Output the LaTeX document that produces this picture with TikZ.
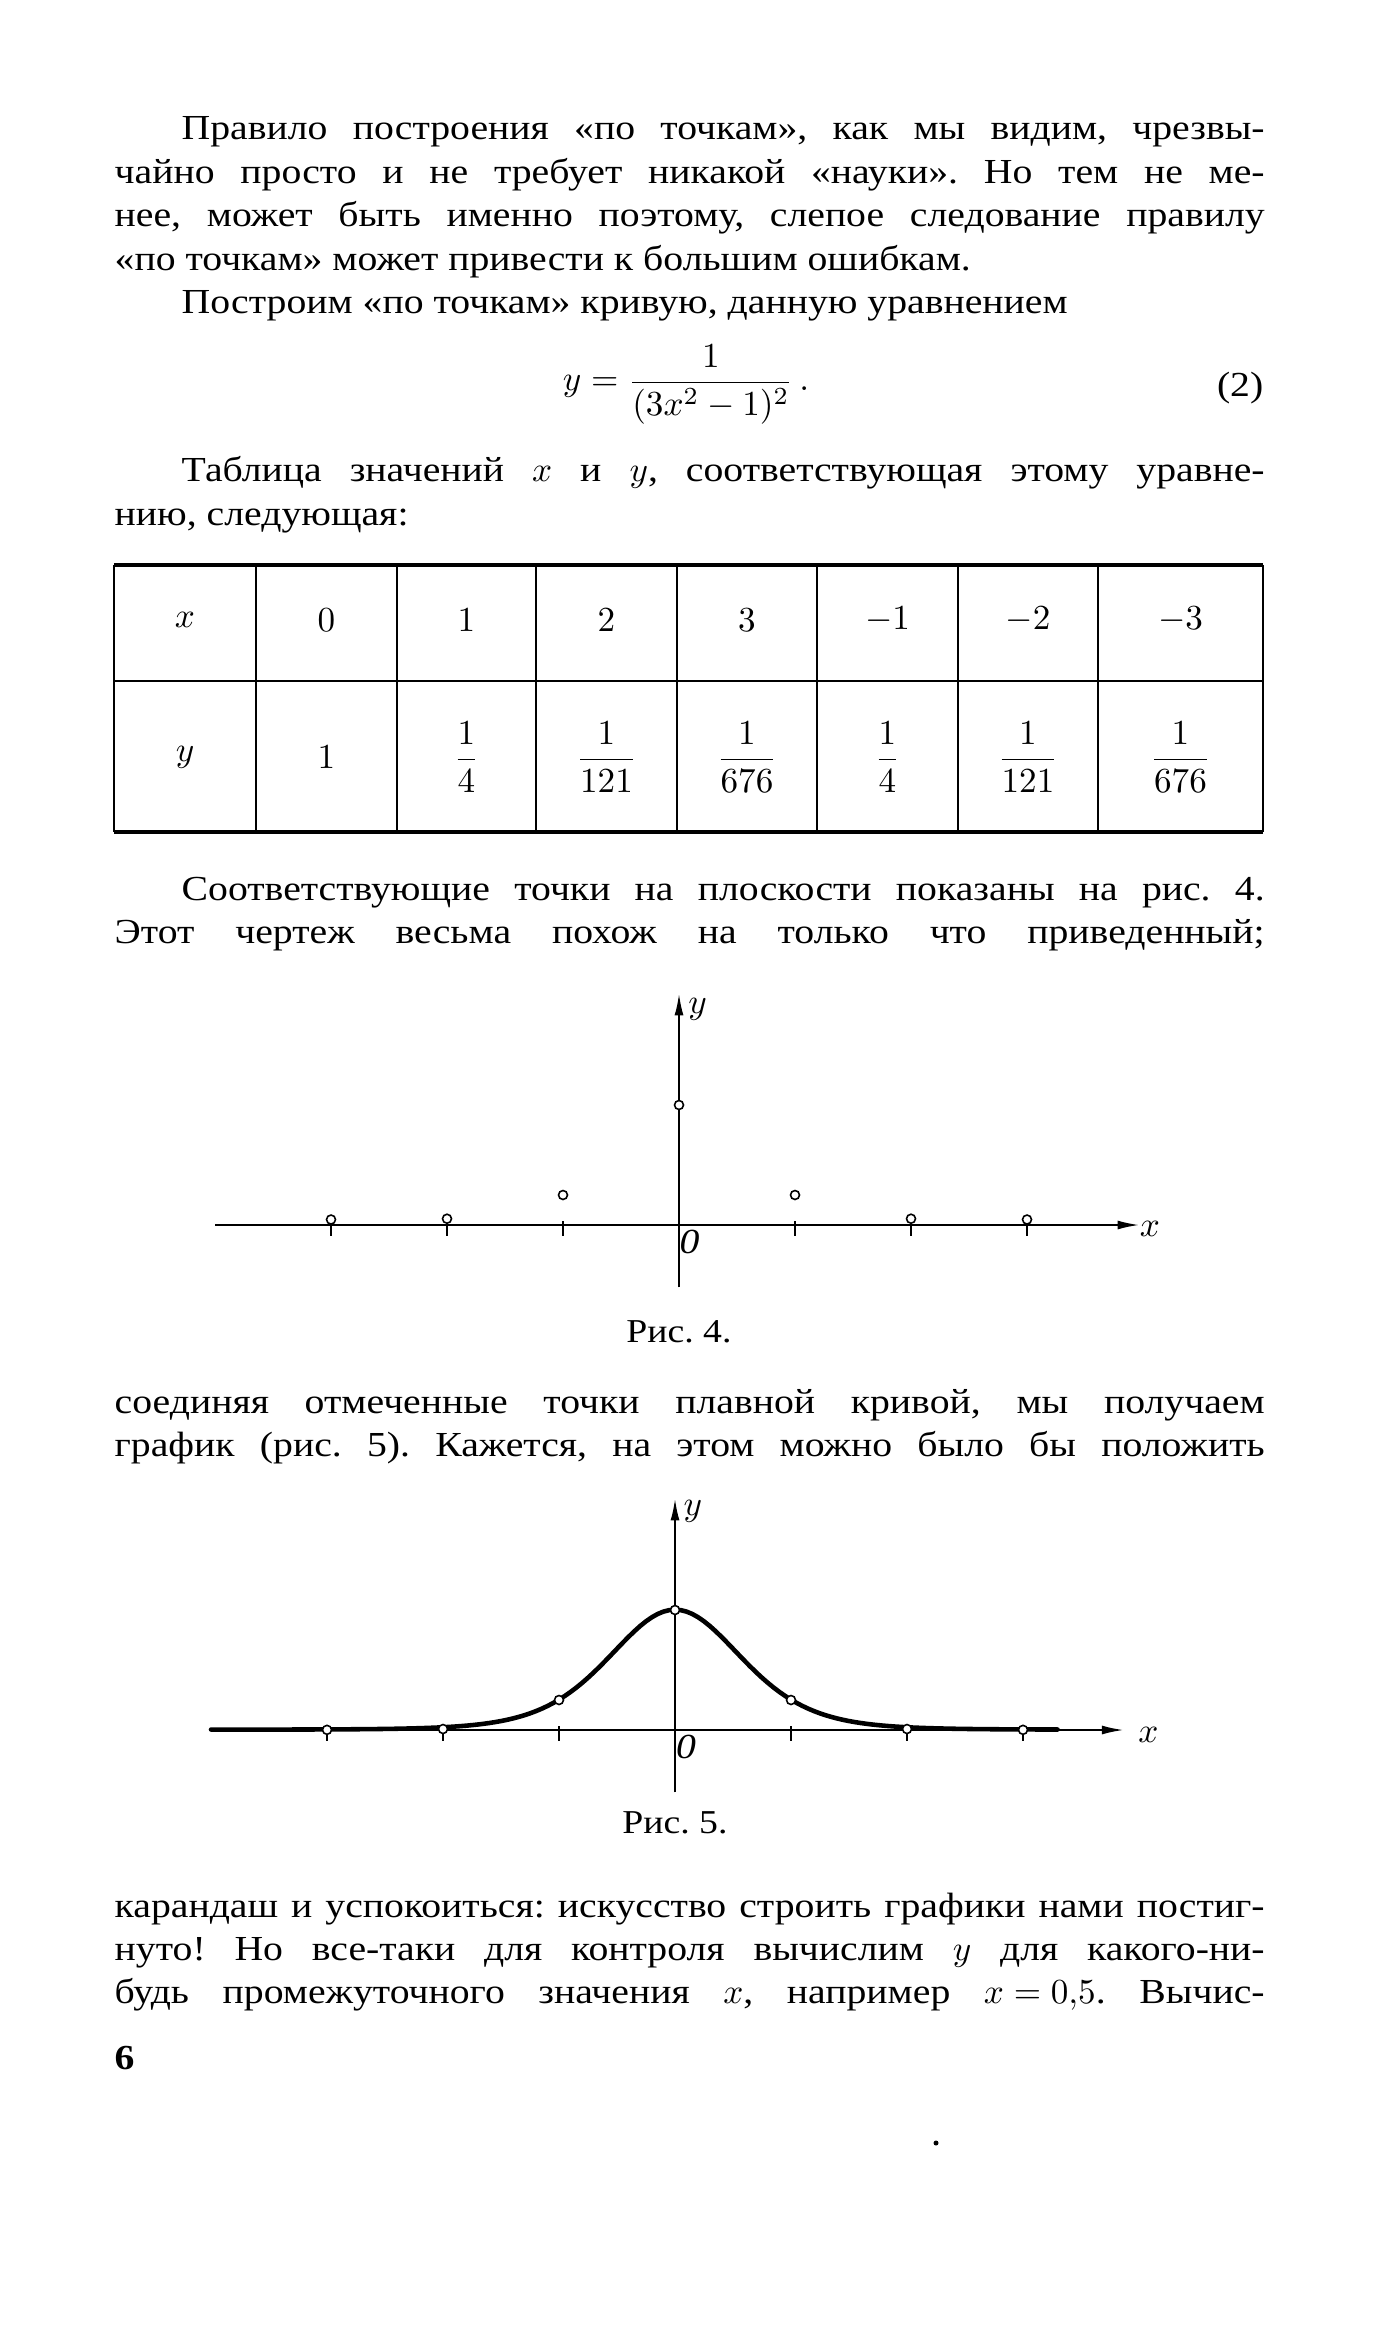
\documentclass[tikz,border=0pt]{standalone}
\usepackage{fontspec}
\setmainfont[FakeStretch=1.13]{Liberation Serif}
\usepackage{amsmath}
\usetikzlibrary{arrows.meta}

\newlength\parind
\setlength\parind{6.7mm}
\newcommand\bodyfont{\fontsize{10}{12.37}\selectfont\frenchspacing\hyphenpenalty=10000\exhyphenpenalty=10000}
\newcommand\capfont{\fontsize{9.5}{11}\selectfont\frenchspacing}

\begin{document}
\begin{tikzpicture}[x=0.1mm,y=-0.1mm]
  \tikzstyle{textpar}=[anchor=base west,inner sep=0pt,text width=115mm,align=justify,font=\bodyfont]
  \tikzstyle{cellnode}=[inner sep=0pt,font=\bodyfont]
  \tikzstyle{axisline}=[line width=0.6pt,-{Latex[length=2.2mm,width=0.9mm]}]
  \tikzstyle{tickline}=[line width=0.45pt]
  \tikzstyle{pointmark}=[circle,draw,fill=white,line width=0.45pt,inner sep=0pt,minimum size=0.9mm]
  \tikzstyle{curveline}=[line width=1.3pt,line cap=round,line join=round]
  \tikzstyle{figlabel}=[inner sep=0pt,font=\bodyfont]
  \tikzstyle{figcaption}=[anchor=base,inner sep=0pt,font=\capfont]

  \fill[white] (0,0) rectangle (1380,2340);

  % text before the table
  \node[textpar] (P1) at (114,140) {\hspace*{\parind}Правило построения «по точкам», как мы видим, чрезвы-\linebreak
    чайно просто и не требует никакой «науки». Но тем не ме-\linebreak
    нее, может быть именно поэтому, слепое следование правилу\linebreak
    «по точкам» может привести к большим ошибкам.\par
    \hspace*{\parind}Построим «по точкам» кривую, данную уравнением};
  \node[anchor=base,inner sep=0pt,font=\bodyfont] (EQ) at (686,391) {$y=\dfrac{1}{(3x^2-1)^2}\,.$};
  \node[anchor=base east,inner sep=0pt,font=\bodyfont] (EQN) at (1264,397) {(2)};
  \node[textpar] (P2) at (114,482) {\hspace*{\parind}Таблица значений $x$ и $y$, соответствующая этому уравне-\linebreak
    нию, следующая:};

  % table of values
  \draw[line width=0.9pt] (114,565) -- (1263,565);
  \draw[line width=0.6pt] (114,681) -- (1263,681);
  \draw[line width=0.9pt] (114,832) -- (1263,832);
  \foreach \cx in {114,256,397,536,677,817,958,1098,1263}
    \draw[line width=0.45pt] (\cx,565) -- (\cx,832);
  \foreach \cx/\vx/\vy [count=\i] in {185/x/y, 326.5/0/1, 466.5/1/\dfrac{1}{4}, 606.5/2/\dfrac{1}{121},
      747/3/\dfrac{1}{676}, 887.5/-1/\dfrac{1}{4}, 1028/-2/\dfrac{1}{121}, 1180.5/-3/\dfrac{1}{676}} {
    \node[cellnode] (X\i) at (\cx,620) {$\vx$};
    \node[cellnode] (Y\i) at (\cx,757) {$\vy$};
  }

  \node[textpar] (P3) at (114,900) {\hspace*{\parind}Соответствующие точки на плоскости показаны на рис.~4.\linebreak
    Этот чертеж весьма похож на только что приведенный;\parfillskip=0pt\par};

  % fig. 4: the points only
  \begin{scope}[shift={(679,1225)},x=11.6mm,y=12mm]
    \coordinate (A4L) at (-4,0);
    \coordinate (A4R) at (3.97,0);
    \coordinate (A4B) at (0,-0.52);
    \coordinate (A4T) at (0,1.93);
    \draw[axisline] (A4L) -- (A4R);
    \draw[axisline] (A4B) -- (A4T);
    \foreach \t in {-3,-2,-1,1,2,3}
      \draw[tickline] (\t,-0.09) -- (\t,0.03);
    \node[pointmark] (F4P0) at (0,1) {};
    \node[pointmark] (F4P1) at (1,{1/4}) {};
    \node[pointmark] (F4M1) at (-1,{1/4}) {};
    \node[pointmark,anchor=south] (F4P2) at (2,{1/121}) {};
    \node[pointmark,anchor=south] (F4M2) at (-2,{1/121}) {};
    \node[pointmark,anchor=south] (F4P3) at (3,{1/676}) {};
    \node[pointmark,anchor=south] (F4M3) at (-3,{1/676}) {};
    \node[figlabel] (F4Y) at (0.16,1.8) {$y$};
    \node[figlabel] (F4X) at (4.06,-0.03) {$x$};
    \node[figlabel] (F4O) at (0.09,-0.14) {\textit{0}};
  \end{scope}
  \node[figcaption] (CAP4) at (679,1342) {Рис. 4.};

  \node[textpar] (P4) at (114,1413) {соединяя отмеченные точки плавной кривой, мы получаем\linebreak
    график (рис.~5). Кажется, на этом можно было бы положить\parfillskip=0pt\par};

  % fig. 5: the smooth curve
  \begin{scope}[shift={(675,1730)},x=11.6mm,y=12mm]
    \coordinate (A5L) at (-4,0);
    \coordinate (A5R) at (3.87,0);
    \coordinate (A5B) at (0,-0.52);
    \coordinate (A5T) at (0,1.93);
    \draw[axisline] (A5L) -- (A5R);
    \draw[axisline] (A5B) -- (A5T);
    \foreach \t in {-3,-2,-1,1,2,3}
      \draw[tickline] (\t,-0.09) -- (\t,0.03);
    \draw[curveline] (-4,0.004) -- (-3.3,0.004)
      -- plot[domain=-3.3:3.3,samples=133] (\x,{1/(1+0.4142*\x*\x)^4+0.003});
    \node[pointmark] (F5P0) at (0,1) {};
    \node[pointmark] (F5P1) at (1,{1/4}) {};
    \node[pointmark] (F5M1) at (-1,{1/4}) {};
    \node[pointmark] (F5P2) at (2,{1/121}) {};
    \node[pointmark] (F5M2) at (-2,{1/121}) {};
    \node[pointmark] (F5P3) at (3,{1/676}) {};
    \node[pointmark] (F5M3) at (-3,{1/676}) {};
    \node[figlabel] (F5Y) at (0.155,1.82) {$y$};
    \node[figlabel] (F5X) at (4.08,-0.04) {$x$};
    \node[figlabel] (F5O) at (0.095,-0.14) {\textit{0}};
  \end{scope}
  \node[figcaption] (CAP5) at (675,1833) {Рис. 5.};

  \node[textpar] (P5) at (114,1917) {карандаш и успокоиться: искусство строить графики нами постиг-\linebreak
    нуто! Но все-таки для контроля вычислим $y$ для какого-ни-\linebreak
    будь промежуточного значения $x$, например $\thickmuskip=5mu x=0{,}5$. Вычис-\parfillskip=0pt\par};

  \node[anchor=base west,inner sep=0pt,font=\bodyfont\bfseries] (PG) at (114,2069) {6};
  \fill (936,2143) circle[radius=0.25mm];
\end{tikzpicture}
\end{document}
